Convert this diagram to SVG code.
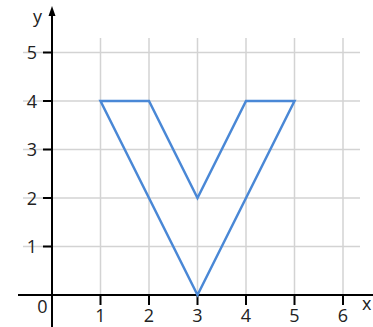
<svg xmlns="http://www.w3.org/2000/svg" width="373" height="327" viewBox="0 0 373 327">
<defs>
<style>
.grid{stroke:#d3d3d3;stroke-width:1.5;fill:none}
.axis{stroke:#000;stroke-width:2;fill:none}
.tick{stroke:#000;stroke-width:2}
.lbl{font-family:"Open Sans","Liberation Sans",sans-serif;font-size:18px;fill:#222}
.shape{stroke:#4a88d6;stroke-width:2.5;fill:none;stroke-linejoin:miter}
</style>
</defs>
<rect width="373" height="327" fill="#fff"/>
<g id="grid" class="grid">
<line x1="100.5" y1="38" x2="100.5" y2="295"/>
<line x1="149" y1="38" x2="149" y2="295"/>
<line x1="197.5" y1="38" x2="197.5" y2="295"/>
<line x1="246" y1="38" x2="246" y2="295"/>
<line x1="294.5" y1="38" x2="294.5" y2="295"/>
<line x1="343" y1="38" x2="343" y2="295"/>
<line x1="23" y1="246.5" x2="360" y2="246.5"/>
<line x1="23" y1="198" x2="360" y2="198"/>
<line x1="23" y1="149.5" x2="360" y2="149.5"/>
<line x1="23" y1="101" x2="360" y2="101"/>
<line x1="23" y1="52.5" x2="360" y2="52.5"/>
</g>
<g id="axes">
<line class="axis" x1="18" y1="295" x2="373" y2="295"/>
<line class="axis" x1="52" y1="327" x2="52" y2="14"/>
<polygon points="52,6 48.5,16 55.5,16" fill="#000"/>
<g class="tick">
<line x1="100.5" y1="295" x2="100.5" y2="305"/>
<line x1="149" y1="295" x2="149" y2="305"/>
<line x1="197.5" y1="295" x2="197.5" y2="305"/>
<line x1="246" y1="295" x2="246" y2="305"/>
<line x1="294.5" y1="295" x2="294.5" y2="305"/>
<line x1="343" y1="295" x2="343" y2="305"/>
<line x1="43" y1="246.5" x2="52" y2="246.5"/>
<line x1="43" y1="198" x2="52" y2="198"/>
<line x1="43" y1="149.5" x2="52" y2="149.5"/>
<line x1="43" y1="101" x2="52" y2="101"/>
<line x1="43" y1="52.5" x2="52" y2="52.5"/>
</g>
</g>
<g id="labels" class="lbl">
<text x="100.5" y="322" text-anchor="middle">1</text>
<text x="149" y="322" text-anchor="middle">2</text>
<text x="197.5" y="322" text-anchor="middle">3</text>
<text x="246" y="322" text-anchor="middle">4</text>
<text x="294.5" y="322" text-anchor="middle">5</text>
<text x="343" y="322" text-anchor="middle">6</text>
<text x="37" y="253.3" text-anchor="end">1</text>
<text x="37" y="204.8" text-anchor="end">2</text>
<text x="37" y="156.3" text-anchor="end">3</text>
<text x="37" y="107.8" text-anchor="end">4</text>
<text x="37" y="59.3" text-anchor="end">5</text>
<text x="42.5" y="313.3" text-anchor="middle">0</text>
<text x="37.5" y="23" text-anchor="middle">y</text>
<text x="362" y="310">x</text>
</g>
<g id="shape">
<polygon class="shape" points="100.5,101 149,101 197.5,198 246,101 294.5,101 197.5,295"/>
</g>
</svg>
